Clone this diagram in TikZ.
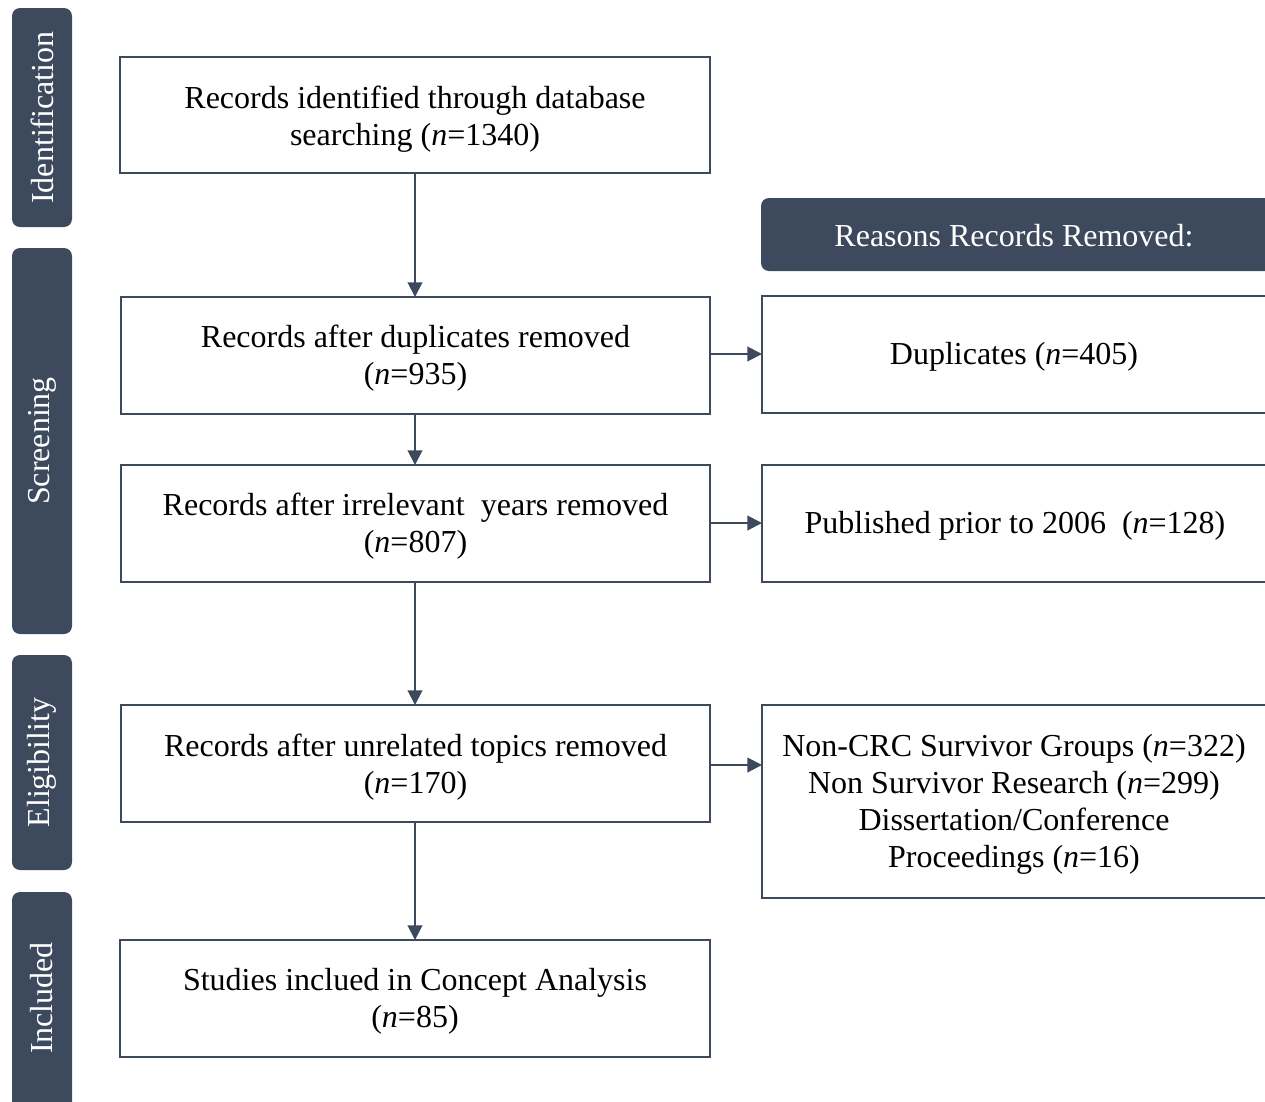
\documentclass[tikz,border=0pt]{standalone}
\usepackage{fontspec}
\setmainfont{Liberation Serif}
\usetikzlibrary{arrows.meta,calc}
\definecolor{slate}{HTML}{3D4A5D}
\begin{document}
\begin{tikzpicture}[x=0.75pt,y=-0.75pt,
  side/.style={fill=slate,draw=none,rounded corners=6pt},
  sidetext/.style={text=white,rotate=90,font=\fontsize{24}{28}\selectfont},
  boxx/.style={draw=slate,line width=1.5pt,fill=white},
  txt/.style={align=center,font=\fontsize{24}{27.8}\selectfont,inner sep=0pt},
  arr/.style={draw=slate,line width=1.5pt,-{Triangle[length=11pt,width=11pt]}}]
\useasboundingbox (0,0) rectangle (1265,1101);
% sidebars
\path[side] (12,8) rectangle (72,227);
\node[sidetext] (s1) at (42,117.5) {Identification};
\path[side] (12,248) rectangle (72,634);
\node[sidetext] (s2) at (42,441) {Screening};
\path[side] (12,655) rectangle (72,870);
\node[sidetext] (s3) at (42,762.5) {Eligibility};
\path[side] (12,892) rectangle (72,1115);
\node[sidetext] (s4) at (42,998) {Included};
% left boxes
\draw[boxx] (120,57) rectangle (710,173);
\node[txt] (b1) at (415,119) {Records identified through database\\searching (\textit{n}=1340)};
\coordinate (b1s) at (415,173);
\draw[boxx] (121,297) rectangle (710,414);
\node[txt] (b2) at (415.5,358) {Records after duplicates removed\\(\textit{n}=935)};
\coordinate (b2n) at (415,297);
\coordinate (b2s) at (415,414);
\coordinate (b2e) at (710,354);
\draw[boxx] (121,465) rectangle (710,582);
\node[txt] (b3) at (415.5,526) {Records after irrelevant~ years removed\\(\textit{n}=807)};
\coordinate (b3n) at (415,465);
\coordinate (b3s) at (415,582);
\coordinate (b3e) at (710,523);
\draw[boxx] (121,705) rectangle (710,822);
\node[txt] (b4) at (415.5,767) {Records after unrelated topics removed\\(\textit{n}=170)};
\coordinate (b4n) at (415,705);
\coordinate (b4s) at (415,822);
\coordinate (b4e) at (710,765);
\draw[boxx] (120,940) rectangle (710,1057);
\node[txt] (b5) at (415,1001) {Studies inclued in Concept Analysis\\(\textit{n}=85)};
\coordinate (b5n) at (415,940);
% right column
\path[side] (761,198) rectangle (1275,271);
\node[txt,text=white] (hdr) at (1014,236) {Reasons Records Removed:};
\draw[boxx] (762,296) rectangle (1275,413);
\node[txt] (r1) at (1014,357) {Duplicates (\textit{n}=405)};
\coordinate (r1w) at (762,354);
\draw[boxx] (762,465) rectangle (1275,582);
\node[txt] (r2) at (1015,526) {Published prior to 2006~ (\textit{n}=128)};
\coordinate (r2w) at (762,523);
\draw[boxx] (762,705) rectangle (1275,898);
\node[txt] (r3) at (1014,804) {Non-CRC Survivor Groups (\textit{n}=322)\\Non Survivor Research (\textit{n}=299)\\Dissertation/Conference\\Proceedings (\textit{n}=16)};
\coordinate (r3w) at (762,765);
% arrows
\draw[arr] (b1s) -- (b2n);
\draw[arr] (b2s) -- (b3n);
\draw[arr] (b3s) -- (b4n);
\draw[arr] (b4s) -- (b5n);
\draw[arr] (b2e) -- (r1w);
\draw[arr] (b3e) -- (r2w);
\draw[arr] (b4e) -- (r3w);
\end{tikzpicture}
\end{document}
